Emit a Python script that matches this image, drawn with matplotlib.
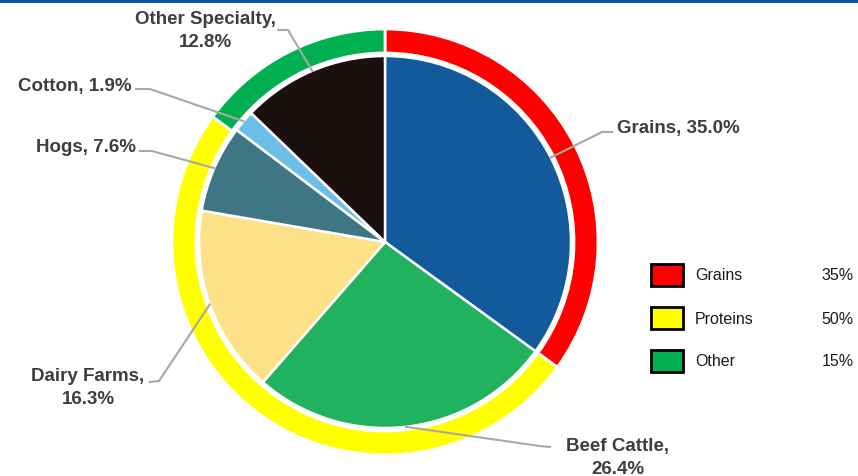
"""
Farm receipts pie with grouped outer ring.
"""

import numpy as np
import matplotlib.pyplot as plt
from matplotlib.patches import Rectangle

plt.rcParams['font.family'] = ['Liberation Sans', 'DejaVu Sans']

# Data
segments = ['Grains', 'Beef Cattle', 'Dairy Farms', 'Hogs', 'Cotton', 'Other Specialty']
shares = [35.0, 26.4, 16.3, 7.6, 1.9, 12.8]
seg_colors = ['#125a9c', '#20b25e', '#fde189', '#3f7686', '#6dbee6', '#1c0f0f']

groups = ['Grains', 'Proteins', 'Other']
group_shares = [35, 50, 15]
group_colors = ['#ff0000', '#ffff00', '#00b050']

# Layout (pixel coordinates, y measured from top)
W, H = 858, 477
cx, cy = 385, 243
r_pie, r_ring, ring_w = 186, 213, 24

# label anchor (x, y), alignment, line break, leader start points
label_pos = [(617, 128), (618, 458), (88, 388), (136, 147), (132, 87), (205, 31)]
label_ha = ['left', 'center', 'center', 'right', 'right', 'center']
label_break = [False, True, True, False, False, True]
leader_pts = [[(612, 133), (602, 133)],
              [(550, 448), (540, 447)],
              [(150, 383), (159, 382)],
              [(140, 152), (152, 152)],
              [(136, 90), (150, 90)],
              [(278, 31), (288, 31)]]

fig = plt.figure(figsize=(W / 100, H / 100), dpi=100)
ax = fig.add_axes([0, 0, 1, 1])

def fy(y):
    return H - y

# Outer ring
ax.pie(group_shares, colors=group_colors, startangle=90, counterclock=False,
       center=(cx, fy(cy)), radius=r_ring, frame=True,
       wedgeprops=dict(width=ring_w, edgecolor='white', linewidth=2))

# Inner pie
wedges, _ = ax.pie(shares, colors=seg_colors, startangle=90, counterclock=False,
                   center=(cx, fy(cy)), radius=r_pie, frame=True,
                   wedgeprops=dict(edgecolor='white', linewidth=1.8))
ax.set_xlim(0, W)
ax.set_ylim(0, H)
ax.set_aspect('equal')
ax.axis('off')

# Labels with leader lines
for i, w in enumerate(wedges):
    mid = np.deg2rad((w.theta1 + w.theta2) / 2)
    ex = cx + r_pie * np.cos(mid)
    ey = fy(cy) + r_pie * np.sin(mid)
    pts = leader_pts[i]
    xs = [p[0] for p in pts] + [ex]
    ys = [fy(p[1]) for p in pts] + [ey]
    ax.plot(xs, ys, color='#a8a8a8', lw=1.5, zorder=5)
    sep = ',\n' if label_break[i] else ', '
    txt = f'{segments[i]}{sep}{shares[i]:.1f}%'
    lx, ly = label_pos[i]
    ax.text(lx, fy(ly), txt, ha=label_ha[i], va='center', fontsize=13.5,
            fontweight='bold', color='#3e3e3e', linespacing=1.4,
            multialignment='center', zorder=6)

# Legend
box_y = [276, 319, 362]
for i, g in enumerate(groups):
    y = box_y[i]
    ax.add_patch(Rectangle((651, fy(y + 11)), 32, 22, facecolor=group_colors[i],
                           edgecolor='black', lw=2, zorder=6))
    ax.text(695, fy(y), g, ha='left', va='center', fontsize=11.5, color='#1a1a1a')
    ax.text(854, fy(y), f'{group_shares[i]}%', ha='right', va='center',
            fontsize=11.5, color='#1a1a1a')

# Top rule
ax.add_patch(Rectangle((0, fy(3.5)), W, 3.5, facecolor='#0a54a0', edgecolor='none',
                       zorder=7, clip_on=False))

fig.savefig('out.png', dpi=100)
